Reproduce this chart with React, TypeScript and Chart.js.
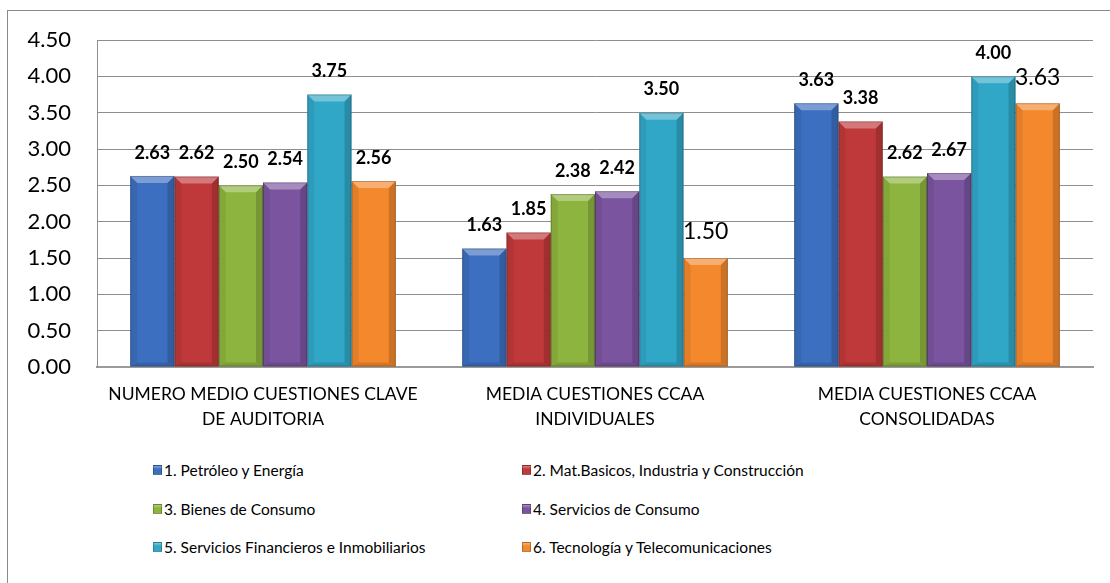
import React, { useEffect, useRef } from "react";
import { Chart, registerables } from "chart.js";

Chart.register(...registerables);

const categories: string[][] = [
  ["NUMERO MEDIO CUESTIONES CLAVE", "DE AUDITORIA"],
  ["MEDIA CUESTIONES CCAA", "INDIVIDUALES"],
  ["MEDIA CUESTIONES CCAA", "CONSOLIDADAS"],
];

const seriesNames = [
  "1. Petróleo y Energía",
  "2. Mat.Basicos, Industria y Construcción",
  "3. Bienes de Consumo",
  "4. Servicios de Consumo",
  "5. Servicios Financieros e Inmobiliarios",
  "6. Tecnología y Telecomunicaciones",
];

const petroleoEnergia = [2.63, 1.63, 3.63];
const matBasicos = [2.62, 1.85, 3.38];
const bienesConsumo = [2.5, 2.38, 2.62];
const serviciosConsumo = [2.54, 2.42, 2.67];
const serviciosFinancieros = [3.75, 3.5, 4.0];
const tecnologia = [2.56, 1.5, 3.63];

const yTickValues = [0, 0.5, 1, 1.5, 2, 2.5, 3, 3.5, 4, 4.5];

// labels drawn in regular (non-bold, larger) style: [seriesIndex, categoryIndex]
const plainLabels: number[][] = [
  [5, 1],
  [5, 2],
];

const seriesValues = [
  petroleoEnergia,
  matBasicos,
  bienesConsumo,
  serviciosConsumo,
  serviciosFinancieros,
  tecnologia,
];

const colors = ["#3d6fc0", "#c0393a", "#8db43e", "#7b54a0", "#31a7c7", "#f3882d"];

const FONT = "Lato, 'Open Sans', sans-serif";

const bevelAndLabels = {
  id: "bevelAndLabels",
  afterDatasetsDraw(chart: any) {
    const ctx = chart.ctx;
    ctx.save();
    chart.data.datasets.forEach((ds: any, di: number) => {
      const meta = chart.getDatasetMeta(di);
      meta.data.forEach((el: any) => {
        const l = el.x - el.width / 2;
        const r = el.x + el.width / 2;
        const t = el.y;
        const b = el.base;
        const bv = 7;
        ctx.fillStyle = "rgba(255,255,255,0.32)";
        ctx.beginPath();
        ctx.moveTo(l, t);
        ctx.lineTo(r, t);
        ctx.lineTo(r - bv, t + bv);
        ctx.lineTo(l + bv, t + bv);
        ctx.closePath();
        ctx.fill();
        ctx.fillStyle = "rgba(0,0,0,0.07)";
        ctx.beginPath();
        ctx.moveTo(l, t);
        ctx.lineTo(l + bv, t + bv);
        ctx.lineTo(l + bv, b - 4);
        ctx.lineTo(l, b);
        ctx.closePath();
        ctx.fill();
        ctx.fillStyle = "rgba(0,0,0,0.16)";
        ctx.beginPath();
        ctx.moveTo(r, t);
        ctx.lineTo(r - bv, t + bv);
        ctx.lineTo(r - bv, b - 4);
        ctx.lineTo(r, b);
        ctx.closePath();
        ctx.fill();
        ctx.fillStyle = "rgba(0,0,0,0.12)";
        ctx.beginPath();
        ctx.moveTo(l, b);
        ctx.lineTo(l + bv, b - 4);
        ctx.lineTo(r - bv, b - 4);
        ctx.lineTo(r, b);
        ctx.closePath();
        ctx.fill();
        ctx.strokeStyle = "rgba(0,0,0,0.22)";
        ctx.lineWidth = 1;
        ctx.strokeRect(l + 0.5, t + 0.5, el.width - 1, b - t - 1);
      });
    });
    chart.data.datasets.forEach((ds: any, di: number) => {
      const meta = chart.getDatasetMeta(di);
      meta.data.forEach((el: any, i: number) => {
        const v = ds.data[i] as number;
        const plain = plainLabels.some((p) => p[0] === di && p[1] === i);
        ctx.fillStyle = "#000";
        ctx.textAlign = "center";
        ctx.textBaseline = "middle";
        if (plain) {
          ctx.font = `400 23px ${FONT}`;
          ctx.fillText(v.toFixed(2), el.x, el.y - 26);
        } else {
          ctx.font = `700 18px ${FONT}`;
          ctx.fillText(v.toFixed(2), el.x, el.y - 23);
        }
      });
    });
    ctx.restore();
  },
};

function App() {
  const ref = useRef<HTMLCanvasElement | null>(null);

  useEffect(() => {
    if (!ref.current) return;
    const chart = new Chart(ref.current, {
      type: "bar",
      data: {
        labels: categories,
        datasets: seriesValues.map((vals, i) => ({
          label: seriesNames[i],
          data: vals,
          backgroundColor: colors[i],
          borderWidth: 0,
          barPercentage: 1,
          categoryPercentage: 0.8,
        })),
      },
      options: {
        animation: false,
        responsive: false,
        maintainAspectRatio: false,
        layout: { padding: { top: 40, right: 17, left: 0, bottom: 0 } },
        plugins: {
          legend: { display: false },
          tooltip: { enabled: false },
        },
        scales: {
          x: {
            grid: { display: false, drawTicks: false },
            border: { display: true, color: "#9a9a9a", width: 2 },
            ticks: {
              color: "#000",
              padding: 15,
              maxRotation: 0,
              autoSkip: false,
              font: { family: FONT, size: 17.5, lineHeight: 1.43 },
            },
            afterFit: (s: any) => {
              s.height = 73;
            },
          },
          y: {
            min: 0,
            max: 4.5,
            afterBuildTicks: (s: any) => {
              s.ticks = yTickValues.map((v) => ({ value: v }));
            },
            grid: { color: "#8e8e8e", lineWidth: 1, drawTicks: false },
            border: { display: true, color: "#8e8e8e", width: 1 },
            ticks: {
              color: "#000",
              padding: 26,
              font: { family: FONT, size: 22 },
              callback: (v: any) => Number(v).toFixed(2),
            },
            afterFit: (s: any) => {
              s.width = 97;
            },
          },
        },
      },
      plugins: [bevelAndLabels],
    });
    return () => chart.destroy();
  }, []);

  return (
    <div style={{ position: "fixed", left: 0, top: 0, width: 1110, height: 583, background: "#fff", overflow: "hidden" }}>
      <div
        style={{
          position: "absolute",
          left: 7,
          top: 10,
          width: 1130,
          height: 600,
          border: "1px solid #8a8a8a",
          boxSizing: "border-box",
        }}
      />
      <canvas ref={ref} width={1110} height={440} style={{ position: "absolute", left: 0, top: 0, width: 1110, height: 440 }} />
      <div
        style={{
          position: "absolute",
          left: 153,
          top: 451,
          display: "grid",
          gridTemplateColumns: "369px auto",
          gridAutoRows: "38.5px",
          fontFamily: FONT,
          fontSize: 15.5,
          color: "#000",
        }}
      >
        {seriesNames.map((name, i) => (
          <div key={name} style={{ display: "flex", alignItems: "center", whiteSpace: "nowrap" }}>
            <span
              style={{
                display: "inline-block",
                width: 9,
                height: 10,
                marginRight: 2,
                background: `linear-gradient(to bottom, rgba(255,255,255,0.35), rgba(255,255,255,0) 40%), ${colors[i]}`,
                border: "1px solid rgba(0,0,0,0.25)",
                boxSizing: "border-box",
              }}
            />
            <span>{name}</span>
          </div>
        ))}
      </div>
    </div>
  );
}

export default App;
